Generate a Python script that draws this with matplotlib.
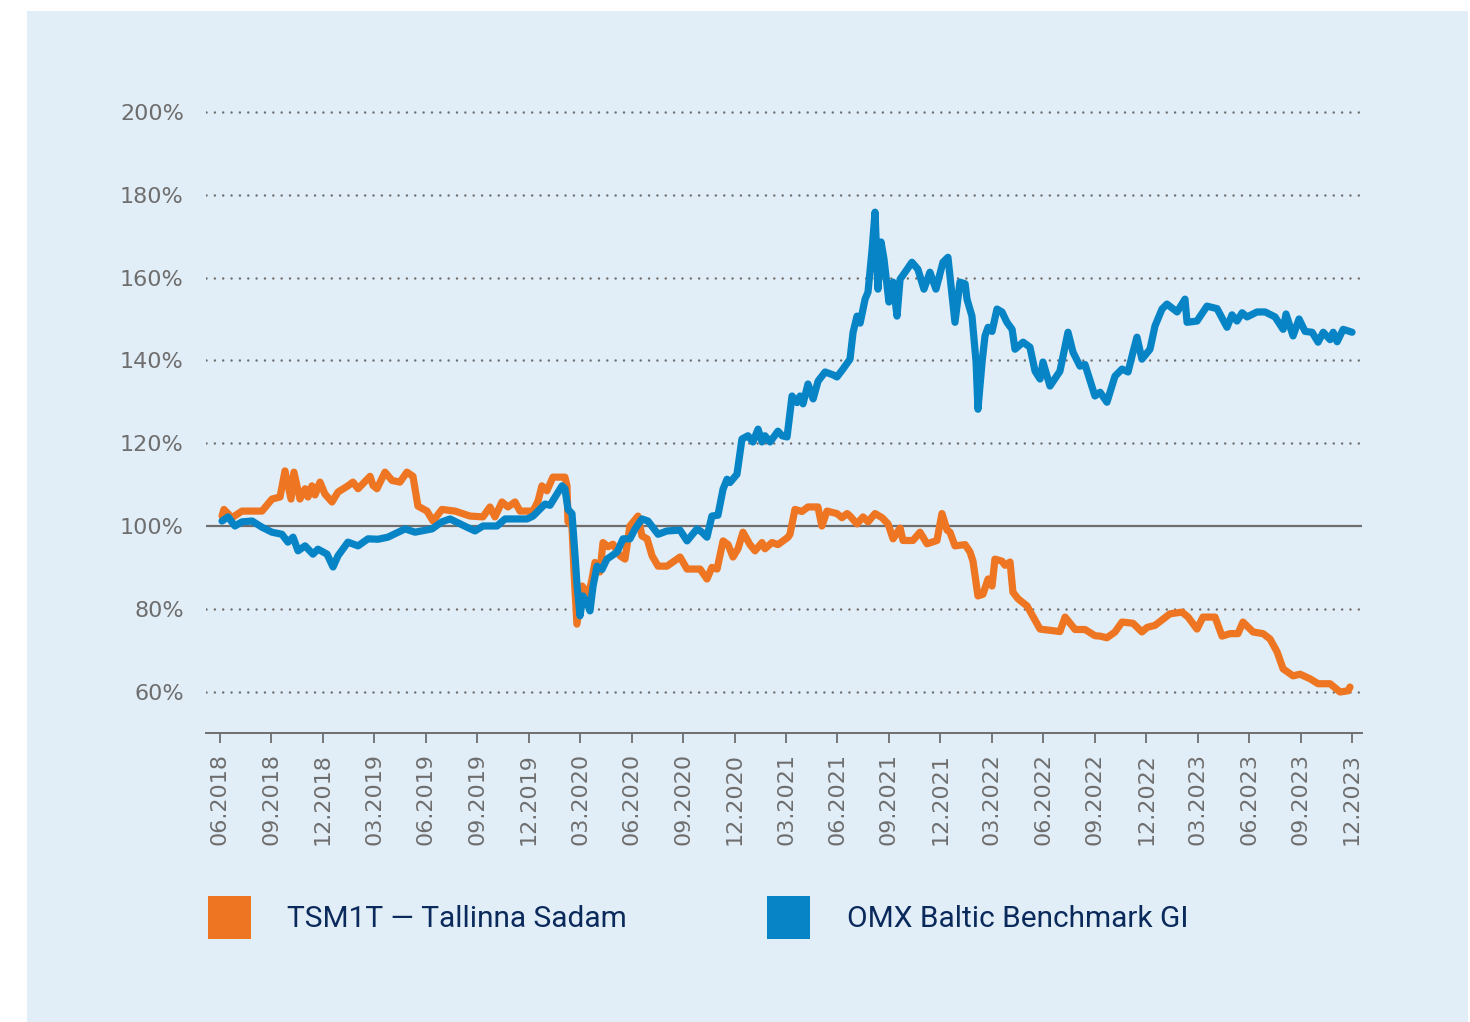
import matplotlib
matplotlib.use("Agg")
import matplotlib.pyplot as plt
from matplotlib.patches import Rectangle

# ---- data (time axis in months since 06.2018) ----
tsm_t = [0.12, 0.23, 0.70, 1.28, 2.45, 3.03, 3.50, 3.79, 4.14, 4.31, 4.66, 4.96, 5.13, 5.36, 5.54,
         5.83, 6.12, 6.53, 6.88, 7.46, 7.75, 8.05, 8.75, 8.92, 9.15, 9.62, 10.03, 10.49, 10.90, 11.25,
         11.54, 12.07, 12.42, 12.94, 13.70, 14.58, 15.33, 15.74, 16.03, 16.44, 16.79, 17.20, 17.49,
         18.25, 18.54, 18.77, 19.06, 19.41, 20.11, 20.23, 20.29, 20.52, 20.64, 20.81, 21.11, 21.28,
         21.40, 21.69, 21.86, 22.15, 22.33, 22.62, 22.91, 23.32, 23.61, 23.90, 24.37, 24.60, 24.90,
         25.19, 25.54, 26.06, 26.82, 27.23, 27.99, 28.39, 28.68, 28.98, 29.33, 29.62, 29.91, 30.20,
         30.49, 30.90, 31.19, 31.60, 31.77, 32.18, 32.53, 33.12, 33.23, 33.52, 33.93, 34.28, 34.86,
         35.09, 35.39, 35.97, 36.26, 36.56, 36.73, 37.14, 37.49, 37.78, 38.19, 38.60, 38.95, 39.24,
         39.65, 39.82, 40.40, 40.81, 41.22, 41.80, 42.09, 42.39, 42.56, 42.85, 43.44, 43.73, 43.90,
         44.19, 44.48, 44.78, 45.01, 45.18, 45.59, 45.77, 46.06, 46.23, 46.53, 47.05, 47.81, 48.97,
         49.27, 49.85, 50.43, 51.01, 51.31, 51.71, 52.18, 52.59, 53.23, 53.75, 54.05, 54.51, 54.98,
         55.39, 56.09, 56.44, 56.96, 57.31, 58.01, 58.42, 58.89, 59.35, 59.64, 60.23, 60.81, 61.22,
         61.63, 61.98, 62.56, 62.97, 63.55, 64.02, 64.72, 65.30, 65.77, 65.88]
tsm_v = [102.4, 104.0, 102.0, 103.6, 103.6, 106.5, 107.0, 113.3, 106.5, 113.0, 106.5, 109.0, 107.0, 109.7, 107.5,
         110.6, 107.7, 105.8, 108.2, 109.7, 110.6, 109.0, 112.0, 109.8, 109.0, 113.0, 111.0, 110.6, 113.0, 112.0,
         104.8, 103.6, 101.2, 104.0, 103.6, 102.4, 102.2, 104.6, 102.2, 105.8, 104.6, 105.8, 103.6,
         103.6, 106.0, 109.7, 108.5, 111.8, 111.8, 109.7, 101.0, 100.0, 88.9, 76.3, 85.5, 84.5,
         82.0, 87.2, 91.2, 88.9, 96.0, 95.0, 95.6, 92.8, 92.0, 100.0, 102.4, 97.6, 96.9,
         92.8, 90.3, 90.3, 92.5, 89.6, 89.6, 87.2, 90.0, 89.6, 96.4, 95.5, 92.5, 94.5,
         98.5, 95.5, 94.0, 96.0, 94.5, 96.0, 95.5, 97.3, 98.0, 104.0, 103.5, 104.6, 104.6,
         100.0, 103.6, 103.0, 102.0, 103.0, 102.4, 100.5, 102.2, 101.0, 103.0, 102.0, 100.5, 96.9,
         99.5, 96.5, 96.5, 98.5, 95.7, 96.5, 103.0, 99.0, 98.5, 95.2, 95.5, 93.7, 91.5,
         83.1, 83.5, 87.2, 85.5, 92.0, 91.5, 90.5, 91.3, 84.0, 82.4, 80.7, 75.1, 74.5,
         78.0, 75.0, 75.0, 73.5, 73.4, 73.0, 74.4, 76.8, 76.5, 74.4, 75.5, 76.0, 77.5,
         78.8, 79.2, 78.0, 75.1, 78.0, 78.0, 73.4, 74.0, 74.0, 76.8, 74.4, 74.0, 72.7,
         69.6, 65.5, 63.8, 64.2, 63.1, 61.9, 61.9, 59.9, 60.2, 61.1]

omx_t = [0.12, 0.47, 0.87, 1.28, 1.87, 2.45, 3.03, 3.61, 3.96, 4.26, 4.55, 4.96, 5.42, 5.71, 6.24,
         6.59, 6.88, 7.46, 8.05, 8.63, 9.21, 9.79, 10.79, 11.37, 12.36, 12.94, 13.41, 14.40, 14.87,
         15.33, 16.15, 16.62, 17.90, 18.25, 18.95, 19.24, 19.94, 20.11, 20.29, 20.52, 20.70, 20.81,
         20.99, 21.16, 21.40, 21.57, 21.75, 21.98, 22.27, 22.56, 23.15, 23.50, 23.90, 24.20, 24.60,
         24.95, 25.54, 26.06, 26.82, 27.23, 27.81, 28.10, 28.39, 28.68, 29.03, 29.33, 29.56, 29.73,
         30.14, 30.43, 30.78, 31.07, 31.37, 31.60, 31.77, 32.07, 32.53, 32.77, 33.06, 33.35, 33.64,
         33.82, 33.99, 34.28, 34.58, 34.87, 35.28, 35.74, 35.97, 36.32, 36.73, 36.91, 37.14, 37.32,
         37.61, 37.78, 38.02, 38.19, 38.36, 38.54, 38.71, 38.89, 39.00, 39.24, 39.47, 39.65, 39.94,
         40.34, 40.69, 41.04, 41.39, 41.74, 42.15, 42.44, 42.85, 43.14, 43.44, 43.55, 43.84, 44.08,
         44.19, 44.43, 44.60, 44.78, 45.01, 45.30, 45.59, 45.88, 46.18, 46.35, 46.82, 47.22, 47.52,
         47.81, 47.98, 48.39, 48.97, 49.44, 49.73, 50.14, 50.43, 51.01, 51.31, 51.71, 52.18, 52.59,
         52.94, 53.23, 53.46, 53.75, 54.22, 54.51, 54.92, 55.21, 55.80, 56.26, 56.38, 56.96, 57.31,
         57.54, 58.13, 58.71, 59.00, 59.29, 59.59, 59.88, 60.46, 60.93, 61.51, 61.98, 62.15, 62.56,
         62.91, 63.26, 63.67, 64.02, 64.32, 64.72, 64.90, 65.13, 65.48, 66.00]
omx_v = [101.2, 102.2, 100.0, 101.0, 101.2, 99.7, 98.5, 98.0, 96.1, 97.3, 94.0, 95.2, 93.2, 94.4, 93.2,
         90.1, 92.8, 96.1, 95.2, 96.9, 96.8, 97.3, 99.3, 98.5, 99.3, 101.0, 101.7, 99.7, 98.8,
         100.0, 100.0, 101.7, 101.7, 102.4, 105.3, 105.0, 109.7, 109.0, 104.0, 103.0, 92.8, 86.0,
         78.3, 83.1, 81.5, 79.5, 85.5, 90.3, 89.5, 92.0, 93.7, 96.9, 96.9, 99.3, 101.7,
         101.2, 98.0, 98.8, 99.0, 96.4, 99.3, 98.5, 97.3, 102.4, 102.6, 108.9, 111.3, 110.5,
         112.5, 121.0, 121.8, 120.3, 123.4, 120.3, 121.8, 120.3, 122.9, 121.8, 121.5, 131.4, 129.8,
         131.4, 129.5, 134.3, 130.7, 135.0, 137.2, 136.5, 136.0, 137.9, 140.3, 146.8, 150.7, 149.0,
         154.8, 156.5, 166.9, 175.8, 157.2, 168.6, 164.5, 157.9, 154.1, 158.9, 150.7, 159.6, 161.3,
         163.7, 162.0, 157.2, 161.3, 157.2, 163.7, 164.9, 149.2, 158.9, 158.5, 154.8, 150.7, 139.6,
         128.2, 139.6, 145.9, 148.0, 147.0, 152.4, 151.7, 149.2, 147.5, 142.7, 144.4, 143.2, 137.4,
         135.5, 139.6, 133.8, 137.4, 146.8, 142.0, 138.6, 139.0, 131.4, 132.3, 129.9, 136.2, 137.9,
         137.2, 142.0, 145.6, 140.3, 142.7, 148.3, 152.4, 153.6, 151.7, 154.8, 149.2, 149.5, 151.7,
         153.1, 152.5, 148.0, 151.0, 149.5, 151.5, 150.5, 151.7, 151.7, 150.5, 147.5, 151.2, 145.9,
         150.0, 147.0, 146.8, 144.4, 146.8, 145.0, 146.8, 144.5, 147.5, 146.8]

tick_pos = list(range(0, 67, 3))
tick_labels = ["06.2018", "09.2018", "12.2018", "03.2019", "06.2019", "09.2019", "12.2019",
               "03.2020", "06.2020", "09.2020", "12.2020", "03.2021", "06.2021", "09.2021",
               "12.2021", "03.2022", "06.2022", "09.2022", "12.2022", "03.2023", "06.2023",
               "09.2023", "12.2023"]
y_grid = [60, 80, 120, 140, 160, 180, 200]
y_ticks = [60, 80, 100, 120, 140, 160, 180, 200]
series_names = ["TSM1T — Tallinna Sadam", "OMX Baltic Benchmark GI"]

ORANGE = "#ee7623"
BLUE = "#0784c6"
BG = "#e2eef7"
GRAY = "#6e6e6e"
NAVY = "#0b2a5c"

plt.rcParams['font.family'] = ['DejaVu Sans']

fig = plt.figure(figsize=(14.7, 10.22), dpi=100)
fig.patch.set_facecolor("white")
fig.add_artist(Rectangle((27/1470, 0), 1441/1470, 1 - 11/1022, transform=fig.transFigure,
                         facecolor=BG, edgecolor="none", zorder=0))

ax = fig.add_axes([206/1470, 1 - 733/1022, 1156/1470, (733 - 103.7)/1022])
ax.set_facecolor("none")
ax.set_xlim(-0.816, 66.58)
ax.set_ylim(50, 202)

for g in y_grid:
    ax.axhline(g, color=GRAY, lw=1.8, linestyle=(0, (0.01, 3.33)), dash_capstyle="round", zorder=1)
ax.axhline(100, color=GRAY, lw=1.6, zorder=1)

ax.plot(tsm_t, tsm_v, color=ORANGE, lw=5.2, solid_joinstyle="round", solid_capstyle="round", zorder=3)
ax.plot(omx_t, omx_v, color=BLUE, lw=5.2, solid_joinstyle="round", solid_capstyle="round", zorder=4)

for s in ["top", "right", "left"]:
    ax.spines[s].set_visible(False)
ax.spines["bottom"].set_color(GRAY)
ax.spines["bottom"].set_linewidth(1.4)

ax.set_yticks(y_ticks)
ax.set_yticklabels([f"{v}%" for v in y_ticks])
ax.tick_params(axis="y", length=0, pad=16, labelsize=16, labelcolor=GRAY)
ax.set_xticks(tick_pos)
ax.set_xticklabels(tick_labels, rotation=90)
ax.tick_params(axis="x", direction="out", length=7.5, width=1.3, color=GRAY, pad=7,
               labelsize=16, labelcolor=GRAY)

# legend
for x0, color, tx, name in [(208, ORANGE, 287, series_names[0]), (767, BLUE, 847, series_names[1])]:
    fig.add_artist(Rectangle((x0/1470, 1 - 939/1022), 43/1470, 43/1022, transform=fig.transFigure,
                             facecolor=color, edgecolor="none"))
    fig.text(tx/1470, 1 - 919/1022, name, ha="left", va="center", fontsize=21.5,
             color=NAVY, family=["Roboto", "DejaVu Sans"])

fig.savefig("out.png", dpi=100, facecolor="white")
